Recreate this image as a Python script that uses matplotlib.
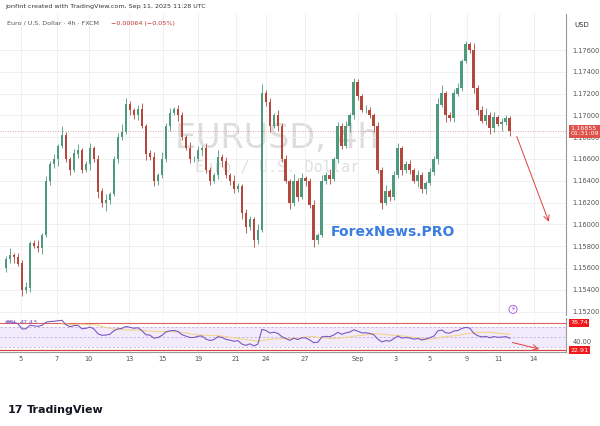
import matplotlib
matplotlib.use("Agg")
import matplotlib.pyplot as plt
import numpy as np

closes = [1.1568,1.1572,1.1570,1.1564,1.1540,1.1542,1.1583,1.1580,1.1578,1.1590,
          1.1640,1.1655,1.1660,1.1672,1.1682,1.1660,1.1650,1.1665,1.1668,1.1650,
          1.1655,1.1670,1.1660,1.1630,1.1620,1.1622,1.1628,1.1660,1.1680,1.1685,
          1.1710,1.1705,1.1700,1.1706,1.1690,1.1665,1.1662,1.1640,1.1645,1.1660,
          1.1690,1.1702,1.1706,1.1700,1.1680,1.1670,1.1660,1.1660,1.1668,1.1670,
          1.1650,1.1640,1.1645,1.1662,1.1658,1.1645,1.1640,1.1632,1.1635,1.1610,
          1.1598,1.1605,1.1586,1.1595,1.1720,1.1712,1.1690,1.1700,1.1690,1.1660,
          1.1640,1.1620,1.1640,1.1625,1.1642,1.1640,1.1618,1.1586,1.1590,1.1640,
          1.1645,1.1642,1.1660,1.1690,1.1672,1.1690,1.1700,1.1730,1.1718,1.1705,
          1.1705,1.1700,1.1690,1.1650,1.1620,1.1630,1.1625,1.1645,1.1670,1.1650,
          1.1655,1.1650,1.1640,1.1645,1.1632,1.1638,1.1648,1.1660,1.1710,1.1720,
          1.1700,1.1698,1.1720,1.1725,1.1750,1.1765,1.1760,1.1725,1.1705,1.1695,
          1.1700,1.1688,1.1698,1.1692,1.1694,1.1697,1.1686]
first_open = 1.1560
wick_up = [3,6,2,4,3,5,2,3,6,2,4,3,5,2,8,3,2,4,6,2,3,5,2,4,3,6,2,3,4,7,
           6,3,2,4,5,2,3,4,2,6,3,5,2,4,3,2,6,3,4,2,5,3,2,6,3,4,2,5,3,2,
           4,3,2,5,9,3,4,2,5,3,4,2,6,3,5,2,3,4,2,5,3,6,2,4,3,5,2,4,3,2,
           5,3,2,4,3,6,2,4,5,2,3,4,2,5,3,2,4,3,6,8,2,3,4,5,2,3,2,6,3,4,
           7,3,5,2,4,3,2]
wick_dn = [4,3,5,2,6,3,4,2,3,5,2,4,3,6,2,3,5,2,4,3,2,5,3,6,4,8,3,2,4,3,
           2,5,3,4,2,6,3,5,4,2,3,4,2,5,3,2,4,3,2,5,3,4,2,3,5,2,4,3,2,5,
           6,3,7,4,2,3,5,2,4,3,2,6,3,4,2,5,3,7,4,2,3,5,2,4,3,2,5,3,4,2,
           3,2,5,3,6,2,4,3,2,5,3,4,2,6,3,4,2,3,5,2,6,3,4,2,3,2,3,4,5,2,
           4,5,3,2,6,3,5]

tick_labels = ["5","7","10","13","15","19","21","24","27","Sep","3","5","9","11","14"]
tick_pos = [3.75,12.75,20.75,30.75,39.25,48,57.5,65,74.75,88,97.5,106,115.25,123.25,132]
price_ticks = [1.152,1.154,1.156,1.158,1.160,1.162,1.164,1.166,1.168,1.170,1.172,1.174,1.176]
last_price = 1.16855
rsi_hi, rsi_lo = 78.74, 22.91

UP, DN = "#4e9a7c", "#b5483c"
c = np.array(closes)
o = np.concatenate([[first_open], c[:-1]])
hi = np.maximum(o, c) + np.array(wick_up) * 1e-4
lo = np.minimum(o, c) - np.array(wick_dn) * 1e-4
x = np.arange(len(c))
col = [UP if cc >= oo else DN for oo, cc in zip(o, c)]

# RSI
d = np.diff(c, prepend=c[0])
g = np.where(d > 0, d, 0); l = np.where(d < 0, -d, 0)
n = 14
ag = np.zeros_like(c); al = np.zeros_like(c)
ag[0], al[0] = g[1:n+1].mean(), l[1:n+1].mean()
for i in range(1, len(c)):
    ag[i] = (ag[i-1]*(n-1) + g[i]) / n
    al[i] = (al[i-1]*(n-1) + l[i]) / n
rsi = 100 - 100 / (1 + ag / np.maximum(al, 1e-9))
ma = np.convolve(rsi, np.ones(n)/n, mode="full")[:len(c)]
ma[:n] = np.nan

fig = plt.figure(figsize=(6, 4.26), dpi=100)
fig.patch.set_facecolor("white")
ax = fig.add_axes([0.0, 0.261, 0.943, 0.706])
ar = fig.add_axes([0.0, 0.174, 0.943, 0.080])
XL = (-1.5, 140)
for a in (ax, ar):
    a.set_xlim(*XL)
    a.set_xticks(tick_pos)
    a.grid(True, color="#eeeeee", lw=0.6)
    a.tick_params(length=0, labelsize=4.8, colors="#555555")
    for s in a.spines.values():
        s.set_visible(False)
    a.yaxis.tick_right()
ax.spines["right"].set_visible(True); ax.spines["right"].set_color("#999999")
ar.spines["right"].set_visible(True); ar.spines["right"].set_color("#999999")
ar.spines["bottom"].set_visible(True); ar.spines["bottom"].set_color("#999999")
ax.set_xticklabels([])
ar.set_xticklabels(tick_labels)
ar.tick_params(axis="x", pad=3)

ax.set_ylim(1.1517, 1.1793)
ax.set_yticks(price_ticks)
ax.set_yticklabels([f"{p:.5f}" for p in price_ticks])
ax.tick_params(axis="y", pad=5)

ax.vlines(x, lo, hi, colors=col, lw=0.6, zorder=3)
ax.bar(x, np.abs(c - o) + 2e-5, bottom=np.minimum(o, c), width=0.7, color=col, zorder=4)
ax.axhline(last_price, color=DN, ls=(0, (1, 2)), lw=0.6, alpha=0.6)
ax.annotate("", xy=(136, 1.1600), xytext=(127.5, 1.1683),
            arrowprops=dict(arrowstyle="->", color="#e0403a", lw=0.7))
ax.text(0.49, 0.585, "EURUSD, 4h", transform=ax.transAxes, ha="center", va="center",
        fontsize=24, color="#dddddd", zorder=1)
ax.text(0.49, 0.49, "Euro / U.S. Dollar", transform=ax.transAxes, ha="center", va="center",
        fontsize=11, color="#e0e0e0", zorder=1, family="DejaVu Sans Mono")
ax.text(0.695, 0.275, "ForexNews.PRO", transform=ax.transAxes, ha="center", va="center",
        fontsize=10, color="#3b7de0", weight="bold", zorder=6)
ax.text(1.015, 0.965, "USD", transform=ax.transAxes, fontsize=5, color="#333333", va="center")
ax.text(1.008, (last_price-1.1517)/(1.1793-1.1517), "1.16855\n01:31:09",
        transform=ax.transAxes, fontsize=4.6, color="white", va="center", linespacing=1.0,
        bbox=dict(boxstyle="square,pad=0.25", fc="#e05048", ec="none"))
ax.text(126.8, 1.1522, "⚡", fontsize=5, color="#9b4fd6", ha="center", va="center",
        bbox=dict(boxstyle="circle,pad=0.15", fc="white", ec="#9b4fd6", lw=0.6))

ar.set_ylim(19.6, 89)
ar.set_yticks([40, 25])
ar.set_yticklabels(["40.00", ""])
ar.tick_params(axis="y", pad=5)
ar.axhspan(30, 70, color="#9c5cf0", alpha=0.12, lw=0)
for lv in (70, 50, 30):
    ar.axhline(lv, color="#b0a0d0", ls=(0, (3, 3)), lw=0.5)
ar.axhline(rsi_hi, color="#e06060", lw=0.8)
ar.axhline(rsi_lo, color="#e04040", lw=0.8)
ar.plot(x, ma, color="#f2d58a", lw=0.8)
ar.plot(x, rsi, color="#7e57c2", lw=0.8)
ar.annotate("", xy=(134, 24), xytext=(126, 40),
            arrowprops=dict(arrowstyle="->", color="#e0403a", lw=0.7))
for v in (rsi_hi, rsi_lo):
    ar.text(1.008, (v-19.6)/(89-19.6), f"{v:.2f}", transform=ar.transAxes, fontsize=4.6,
            color="white", va="center", bbox=dict(boxstyle="square,pad=0.2", fc="#f01818", ec="none"))
ar.text(0.01, 0.86, "RSI", transform=ar.transAxes, fontsize=4.6, color="#7e57c2", va="center")
ar.text(0.035, 0.86, f"{rsi[-1]:.2f}", transform=ar.transAxes, fontsize=4.6, color="#7e57c2", va="center")

fig.text(0.008, 0.985, "jonfint created with TradingView.com, Sep 11, 2025 11:28 UTC",
         fontsize=4.6, color="#333333", va="center")
fig.text(0.012, 0.945, "Euro / U.S. Dollar · 4h · FXCM", fontsize=4.6, color="#555555", va="center")
fig.text(0.185, 0.945, "−0.00064 (−0.05%)", fontsize=4.6, color="#c03030", va="center")
fig.text(0.012, 0.037, "17", fontsize=8, weight="bold", color="#131722", va="center")
fig.text(0.045, 0.037, "TradingView", fontsize=8, weight="bold", color="#131722", va="center")

fig.savefig("out.png", dpi=100)
